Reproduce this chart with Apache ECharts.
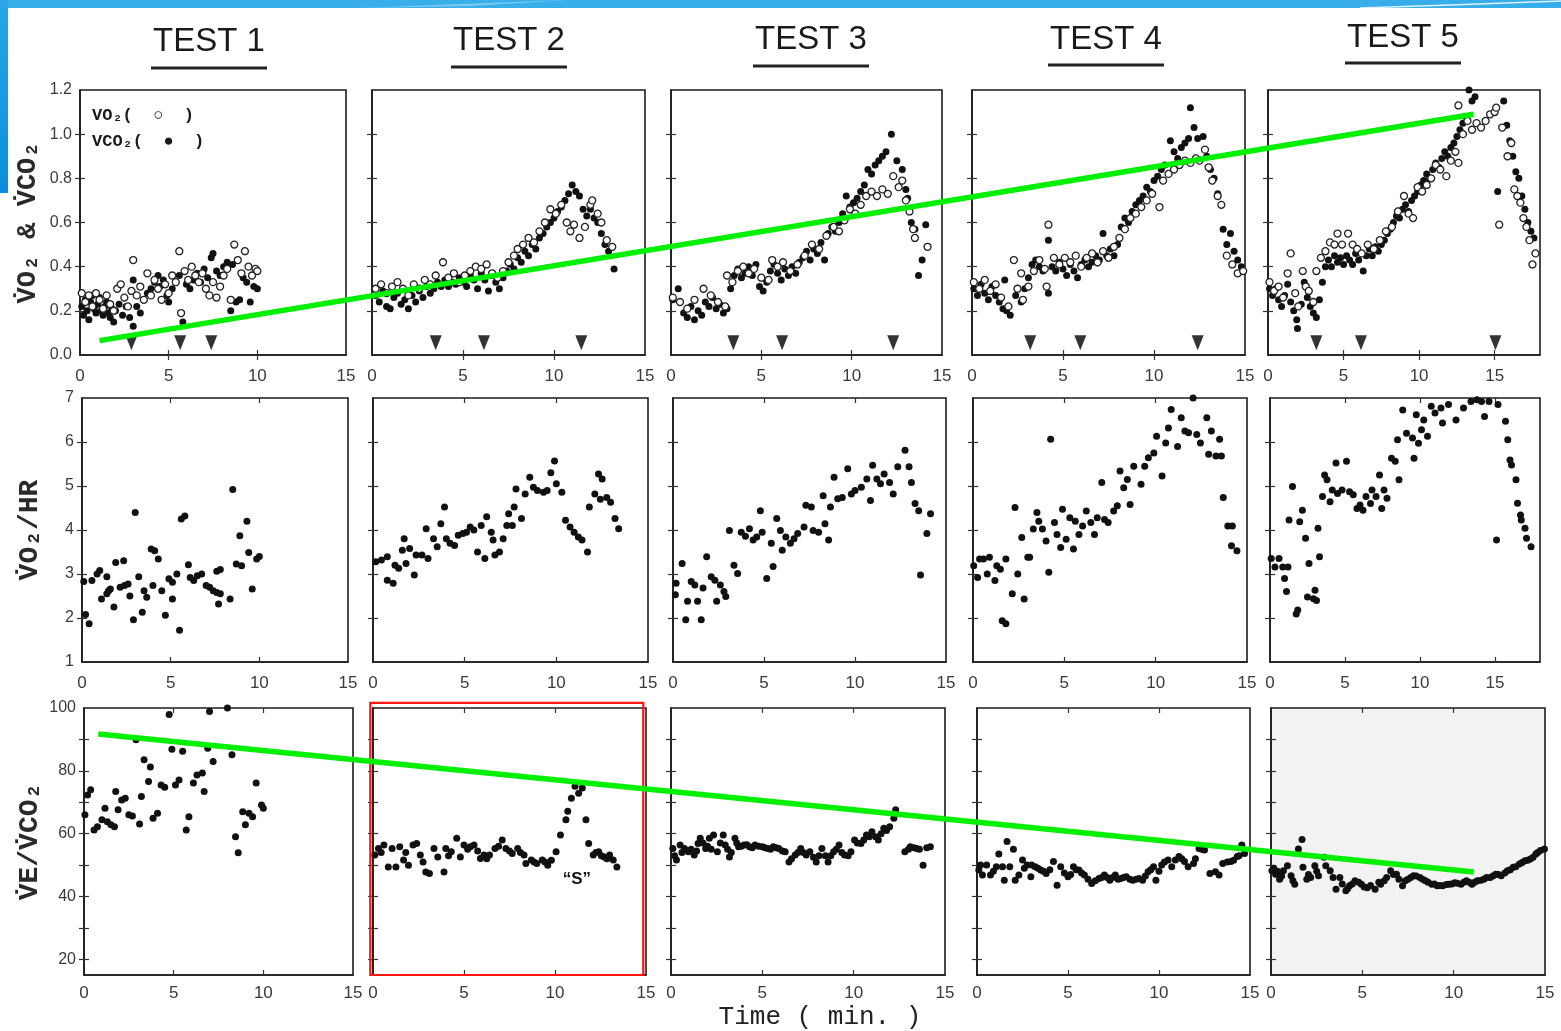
<!DOCTYPE html>
<html><head><meta charset="utf-8">
<script src="https://cdn.jsdelivr.net/npm/echarts@6/dist/echarts.min.js"></script>
<style>html,body{margin:0;padding:0;background:#fff;}#c{width:1561px;height:1031px;}</style>
</head><body><div id="c"></div>
<script>
// ---------- text / tick labels ----------
const testNames = ['TEST 1','TEST 2','TEST 3','TEST 4','TEST 5'];
const xTickLabels = [0,5,10,15];
const xInnerTicks = [5,10,15];
const row1TickLabels = [0,0.2,0.4,0.6,0.8,1.0,1.2];
const row1InnerTicks = [0.2,0.4,0.6,0.8,1.0];
const row2TickLabels = [1,2,3,4,5,6,7];
const row2InnerTicks = [2,3,4,5,6];
const row3TickLabels = [20,40,60,80,100];
const row3InnerTicks = [20,30,40,50,60,70,80,90];
const rowNames = ['V\u0307O\u2082 & V\u0307CO\u2082','V\u0307O\u2082/HR','V\u0307E/V\u0307CO\u2082'];
const timeLabel = 'Time ( min. )';

// ---------- row 1 : VO2 (open) & VCO2 (filled) ----------
const t1_vco2 = [[0.1,0.22],[0.2,0.18],[0.3,0.25],[0.4,0.2],[0.5,0.16],[0.6,0.24],[0.7,0.27],[0.8,0.21],[0.9,0.19],[1.0,0.23],[1.1,0.26],[1.2,0.2],[1.3,0.18],[1.4,0.22],[1.5,0.24],[1.6,0.19],[1.7,0.17],[1.8,0.21],[1.9,0.15],[2.0,0.2],[2.2,0.23],[2.4,0.18],[2.6,0.22],[2.8,0.17],[3.0,0.34],[3.0,0.13],[3.2,0.22],[3.4,0.19],[3.6,0.25],[3.8,0.28],[4.0,0.3],[4.2,0.33],[4.4,0.36],[4.5,0.31],[4.7,0.34],[4.9,0.27],[5.0,0.24],[5.2,0.3],[5.4,0.33],[5.6,0.36],[5.8,0.15],[5.9,0.38],[6.0,0.32],[6.2,0.3],[6.4,0.34],[6.6,0.37],[6.8,0.33],[7.0,0.39],[7.2,0.35],[7.4,0.44],[7.5,0.46],[7.7,0.38],[7.9,0.36],[8.1,0.4],[8.3,0.42],[8.5,0.2],[8.6,0.41],[8.8,0.24],[9.0,0.25],[9.2,0.35],[9.4,0.33],[9.6,0.24],[9.8,0.31],[10.0,0.3]];
const t1_vo2 = [[0.1,0.28],[0.3,0.24],[0.5,0.27],[0.7,0.22],[0.9,0.28],[1.1,0.25],[1.3,0.21],[1.5,0.27],[1.7,0.23],[1.9,0.2],[2.1,0.3],[2.3,0.32],[2.5,0.26],[2.7,0.22],[2.9,0.29],[3.0,0.43],[3.2,0.27],[3.4,0.31],[3.6,0.25],[3.8,0.37],[4.0,0.27],[4.2,0.34],[4.4,0.3],[4.6,0.25],[4.8,0.32],[5.0,0.28],[5.2,0.36],[5.4,0.33],[5.6,0.47],[5.7,0.19],[5.9,0.38],[6.1,0.34],[6.3,0.4],[6.5,0.36],[6.7,0.33],[6.9,0.37],[7.1,0.3],[7.3,0.27],[7.5,0.33],[7.7,0.26],[7.9,0.31],[8.1,0.36],[8.3,0.39],[8.5,0.25],[8.7,0.5],[8.9,0.43],[9.1,0.37],[9.3,0.47],[9.5,0.4],[9.7,0.36],[9.9,0.39],[10.0,0.38]];
const t2_vco2 = [[0.2,0.27],[0.4,0.24],[0.6,0.29],[0.8,0.22],[1.0,0.21],[1.2,0.26],[1.4,0.28],[1.6,0.23],[1.8,0.25],[2.0,0.21],[2.2,0.27],[2.4,0.24],[2.6,0.29],[2.8,0.26],[3.0,0.31],[3.2,0.28],[3.4,0.3],[3.6,0.33],[3.8,0.31],[4.0,0.34],[4.2,0.31],[4.4,0.33],[4.6,0.32],[4.8,0.35],[5.0,0.33],[5.2,0.31],[5.4,0.36],[5.6,0.34],[5.8,0.3],[6.0,0.37],[6.2,0.34],[6.4,0.29],[6.6,0.36],[6.8,0.33],[7.0,0.3],[7.2,0.35],[7.4,0.38],[7.6,0.41],[7.8,0.39],[8.0,0.44],[8.2,0.42],[8.4,0.47],[8.6,0.45],[8.8,0.5],[9.0,0.48],[9.2,0.53],[9.4,0.55],[9.6,0.58],[9.8,0.6],[10.0,0.62],[10.2,0.65],[10.4,0.67],[10.6,0.7],[10.8,0.73],[11.0,0.77],[11.2,0.74],[11.4,0.72],[11.6,0.66],[11.8,0.63],[12.0,0.66],[12.2,0.62],[12.4,0.6],[12.6,0.55],[12.8,0.5],[13.0,0.47],[13.3,0.39]];
const t2_vo2 = [[0.2,0.3],[0.5,0.32],[0.8,0.28],[1.1,0.31],[1.4,0.33],[1.7,0.3],[2.0,0.27],[2.3,0.32],[2.6,0.3],[2.9,0.34],[3.2,0.32],[3.5,0.36],[3.9,0.42],[4.2,0.35],[4.5,0.37],[4.8,0.33],[5.1,0.36],[5.4,0.38],[5.7,0.4],[6.0,0.39],[6.3,0.41],[6.6,0.37],[6.9,0.35],[7.2,0.38],[7.5,0.42],[7.8,0.45],[8.0,0.48],[8.3,0.5],[8.6,0.53],[8.9,0.51],[9.2,0.56],[9.5,0.6],[9.8,0.66],[10.1,0.64],[10.4,0.68],[10.7,0.6],[10.9,0.56],[11.1,0.59],[11.4,0.53],[11.7,0.58],[12.0,0.68],[12.1,0.7],[12.4,0.64],[12.6,0.6],[12.9,0.52],[13.2,0.49]];
const t3_vco2 = [[0.1,0.25],[0.4,0.3],[0.7,0.19],[0.9,0.17],[1.1,0.22],[1.3,0.16],[1.5,0.2],[1.7,0.18],[1.9,0.24],[2.1,0.22],[2.3,0.26],[2.5,0.21],[2.7,0.23],[2.9,0.19],[3.1,0.21],[3.3,0.3],[3.5,0.36],[3.7,0.39],[3.9,0.35],[4.1,0.37],[4.3,0.4],[4.5,0.36],[4.7,0.41],[4.9,0.31],[5.1,0.29],[5.3,0.33],[5.5,0.38],[5.7,0.41],[5.9,0.37],[6.1,0.34],[6.3,0.39],[6.5,0.36],[6.7,0.4],[6.9,0.37],[7.1,0.42],[7.3,0.44],[7.5,0.47],[7.7,0.43],[7.9,0.48],[8.1,0.46],[8.3,0.51],[8.5,0.43],[8.7,0.55],[8.9,0.58],[9.1,0.56],[9.3,0.6],[9.5,0.64],[9.7,0.72],[9.9,0.67],[10.1,0.69],[10.3,0.71],[10.5,0.74],[10.7,0.77],[10.9,0.84],[11.1,0.82],[11.3,0.86],[11.5,0.88],[11.7,0.9],[11.9,0.92],[12.2,1.0],[12.5,0.88],[12.8,0.84],[13.0,0.75],[13.1,0.71],[13.3,0.6],[13.5,0.57],[13.7,0.36],[13.9,0.43],[14.1,0.59]];
const t3_vo2 = [[0.1,0.26],[0.5,0.24],[0.9,0.21],[1.3,0.25],[1.8,0.3],[2.2,0.27],[2.6,0.24],[3.0,0.22],[3.1,0.36],[3.4,0.33],[3.7,0.38],[4.0,0.4],[4.3,0.37],[4.6,0.39],[5.0,0.35],[5.4,0.34],[5.6,0.43],[5.9,0.4],[6.2,0.42],[6.6,0.38],[7.0,0.41],[7.4,0.45],[7.8,0.5],[8.2,0.48],[8.6,0.54],[9.0,0.58],[9.3,0.56],[9.6,0.61],[9.9,0.66],[10.2,0.64],[10.5,0.68],[10.8,0.72],[11.1,0.74],[11.4,0.72],[11.7,0.75],[12.0,0.73],[12.3,0.81],[12.6,0.76],[12.8,0.79],[13.0,0.7],[13.2,0.65],[13.4,0.57],[13.5,0.53],[14.2,0.49]];
const t4_vco2 = [[0.1,0.3],[0.3,0.27],[0.5,0.32],[0.7,0.28],[0.9,0.25],[1.1,0.31],[1.3,0.27],[1.5,0.24],[1.7,0.21],[1.8,0.34],[1.9,0.2],[2.1,0.18],[2.4,0.27],[2.7,0.24],[2.9,0.3],[3.1,0.35],[3.3,0.41],[3.5,0.43],[3.7,0.4],[3.9,0.38],[4.2,0.52],[4.2,0.28],[4.4,0.4],[4.6,0.38],[4.8,0.42],[5.0,0.39],[5.2,0.36],[5.4,0.41],[5.6,0.38],[5.8,0.35],[6.0,0.41],[6.2,0.43],[6.4,0.4],[6.6,0.42],[6.8,0.45],[7.0,0.43],[7.2,0.55],[7.4,0.45],[7.6,0.48],[7.8,0.45],[8.0,0.5],[8.2,0.58],[8.4,0.62],[8.6,0.6],[8.8,0.65],[9.0,0.68],[9.2,0.7],[9.4,0.72],[9.6,0.76],[9.8,0.74],[10.0,0.79],[10.2,0.81],[10.4,0.84],[10.6,0.86],[10.9,0.97],[11.1,0.92],[11.3,0.89],[11.5,0.94],[11.7,0.96],[11.9,0.98],[12.0,1.12],[12.2,1.03],[12.4,0.98],[12.7,0.99],[12.9,0.9],[13.1,0.84],[13.3,0.8],[13.5,0.73],[13.8,0.57],[14.0,0.5],[14.2,0.55],[14.4,0.47],[14.6,0.43],[14.8,0.4]];
const t4_vo2 = [[0.1,0.33],[0.4,0.3],[0.7,0.34],[1.0,0.29],[1.3,0.32],[1.6,0.26],[2.0,0.22],[2.3,0.43],[2.5,0.3],[2.7,0.37],[2.8,0.25],[3.1,0.31],[3.4,0.38],[3.7,0.43],[4.0,0.39],[4.1,0.31],[4.2,0.59],[4.5,0.44],[4.8,0.41],[5.1,0.44],[5.4,0.42],[5.7,0.45],[6.0,0.4],[6.3,0.44],[6.6,0.46],[6.9,0.42],[7.2,0.47],[7.5,0.44],[7.8,0.49],[8.1,0.53],[8.4,0.57],[8.7,0.62],[9.0,0.64],[9.3,0.67],[9.6,0.7],[9.9,0.73],[10.3,0.67],[10.5,0.79],[10.8,0.82],[11.1,0.84],[11.4,0.86],[11.7,0.88],[12.0,0.87],[12.3,0.89],[12.5,0.88],[12.8,0.93],[13.0,0.85],[13.2,0.79],[13.5,0.72],[13.7,0.68],[14.0,0.45],[14.3,0.41],[14.6,0.37],[14.9,0.38]];
const t5_vco2 = [[0.1,0.3],[0.3,0.27],[0.5,0.3],[0.7,0.25],[0.9,0.22],[1.1,0.27],[1.3,0.32],[1.5,0.24],[1.7,0.2],[1.9,0.16],[1.95,0.12],[2.2,0.23],[2.4,0.33],[2.6,0.26],[2.8,0.22],[3.0,0.19],[3.2,0.17],[3.4,0.25],[3.6,0.33],[3.8,0.4],[4.0,0.43],[4.2,0.4],[4.4,0.45],[4.6,0.42],[4.8,0.44],[5.0,0.41],[5.2,0.45],[5.4,0.43],[5.6,0.41],[5.8,0.46],[6.0,0.43],[6.2,0.46],[6.3,0.38],[6.5,0.45],[6.7,0.48],[6.9,0.45],[7.1,0.49],[7.3,0.47],[7.5,0.5],[7.7,0.52],[7.9,0.55],[8.1,0.57],[8.3,0.6],[8.5,0.63],[8.7,0.62],[8.9,0.66],[9.1,0.68],[9.3,0.65],[9.5,0.7],[9.7,0.72],[9.9,0.74],[10.1,0.77],[10.3,0.79],[10.5,0.82],[10.7,0.8],[10.9,0.84],[11.1,0.87],[11.3,0.85],[11.5,0.89],[11.7,0.92],[11.9,0.9],[12.1,0.94],[12.3,0.96],[12.5,0.99],[12.7,1.02],[12.9,1.05],[13.1,1.08],[13.3,1.2],[13.5,1.15],[13.7,1.17],[15.2,0.74],[15.6,1.21],[15.6,1.15],[15.8,1.04],[16.0,0.97],[16.2,0.9],[16.4,0.83],[16.6,0.8],[16.8,0.72],[17.0,0.66],[17.2,0.6],[17.4,0.56],[17.6,0.53]];
const t5_vo2 = [[0.1,0.33],[0.4,0.29],[0.7,0.31],[1.0,0.26],[1.3,0.37],[1.5,0.46],[1.8,0.28],[2.0,0.22],[2.3,0.38],[2.5,0.31],[2.7,0.29],[3.0,0.24],[3.2,0.38],[3.5,0.44],[3.8,0.47],[4.1,0.51],[4.4,0.5],[4.6,0.55],[4.9,0.5],[5.3,0.55],[5.6,0.5],[5.9,0.48],[6.2,0.46],[6.6,0.5],[7.0,0.48],[7.4,0.52],[7.8,0.56],[8.2,0.58],[8.6,0.65],[9.0,0.72],[9.3,0.64],[9.6,0.62],[9.9,0.76],[10.2,0.74],[10.5,0.77],[10.8,0.8],[11.1,0.86],[11.4,0.84],[11.8,0.81],[12.1,0.88],[12.4,0.92],[12.6,0.87],[12.6,1.13],[12.9,1.0],[13.2,1.06],[13.5,1.02],[13.8,1.05],[14.1,1.03],[14.4,1.06],[14.7,1.09],[15.0,1.1],[15.1,1.12],[15.3,0.59],[15.5,1.03],[15.85,0.9],[16.1,0.96],[16.3,0.75],[16.5,0.72],[16.7,0.69],[16.9,0.62],[17.1,0.58],[17.3,0.52],[17.5,0.41],[17.7,0.46]];
// threshold arrows (minutes)
const t1_arrows = [2.9,5.65,7.4];
const t2_arrows = [3.5,6.15,11.5];
const t3_arrows = [3.45,6.15,12.3];
const t4_arrows = [3.2,5.95,12.4];
const t5_arrows = [3.2,6.15,15.05];
const arrowLevel = 0.055;

// ---------- row 2 : VO2/HR ----------
const t1_hr = [[0.1,2.83],[0.2,2.08],[0.4,1.87],[0.56,2.85],[0.85,3.0],[1.0,3.08],[1.1,2.43],[1.4,2.55],[1.5,2.62],[1.6,2.66],[1.4,2.94],[1.8,2.25],[1.9,3.26],[2.35,3.3],[2.15,2.7],[2.4,2.74],[2.6,2.77],[2.7,2.5],[3.0,4.4],[2.9,1.96],[3.2,2.94],[3.4,2.13],[3.5,2.62],[3.65,2.47],[3.9,3.57],[4.1,3.53],[4.3,3.34],[4.0,2.74],[4.5,2.62],[4.7,2.06],[4.9,2.89],[5.1,2.81],[5.1,2.43],[5.35,3.0],[5.5,1.72],[5.6,4.25],[5.8,4.32],[6.0,3.21],[6.1,2.92],[6.3,2.85],[6.5,2.96],[6.75,3.0],[7.0,2.74],[7.2,2.7],[7.4,2.62],[7.6,2.58],[7.7,2.32],[7.8,2.55],[7.6,3.06],[7.8,3.1],[8.35,2.43],[8.5,4.92],[8.7,3.23],[9.0,3.19],[8.9,3.87],[9.3,4.2],[9.4,3.49],[9.6,2.66],[9.85,3.34],[10.0,3.4]];
const t2_hr = [[0.15,3.28],[0.46,3.32],[0.78,3.39],[0.78,2.86],[1.1,2.79],[1.2,3.2],[1.4,3.13],[1.6,3.54],[1.7,3.8],[1.8,3.24],[2.0,3.58],[2.25,2.98],[2.35,3.43],[2.67,3.43],[3.0,3.35],[2.9,4.03],[3.3,3.8],[3.5,3.62],[3.7,4.14],[3.9,4.52],[4.0,3.8],[4.2,3.7],[4.45,3.65],[4.65,3.88],[4.9,3.92],[5.1,3.95],[5.3,4.07],[5.5,4.0],[5.7,3.5],[5.9,4.1],[6.1,3.35],[6.2,4.3],[6.45,3.95],[6.55,3.77],[6.65,3.43],[6.9,3.5],[7.1,3.8],[7.3,4.1],[7.4,4.37],[7.7,4.52],[7.6,4.1],[7.8,4.93],[8.1,4.26],[8.3,4.82],[8.55,5.2],[8.75,4.97],[8.97,4.9],[9.3,4.86],[9.5,4.9],[9.7,5.3],[9.9,5.57],[10.0,5.05],[10.3,4.86],[10.5,4.22],[10.75,4.07],[10.97,3.95],[11.2,3.84],[11.4,3.77],[11.7,3.5],[11.8,4.52],[12.1,4.82],[12.3,5.27],[12.5,5.16],[12.4,4.7],[12.75,4.74],[12.96,4.63],[13.2,4.26],[13.4,4.03]];
const t3_hr = [[0.13,2.53],[0.17,2.79],[0.5,3.24],[0.7,1.96],[0.8,2.38],[1.0,2.83],[1.2,2.75],[1.35,2.38],[1.55,1.96],[1.65,2.68],[1.85,3.39],[2.1,2.94],[2.3,2.86],[2.4,2.38],[2.6,2.75],[2.8,2.6],[2.9,2.49],[3.1,3.99],[3.35,3.2],[3.55,3.01],[3.75,3.95],[3.98,3.86],[4.2,4.03],[4.4,3.77],[4.6,3.84],[4.8,4.44],[4.9,3.95],[5.15,2.9],[5.4,3.7],[5.5,3.17],[5.7,4.26],[5.9,3.99],[6.0,3.54],[6.2,3.84],[6.45,3.7],[6.65,3.8],[6.85,3.92],[7.2,4.07],[7.3,4.56],[7.6,4.52],[7.7,3.99],[8.0,3.95],[8.25,4.78],[8.35,4.14],[8.55,3.77],[8.65,4.52],[8.85,5.2],[9.05,4.71],[9.3,4.74],[9.6,5.39],[9.8,4.82],[10.0,4.9],[10.35,4.97],[10.65,5.16],[10.85,4.67],[10.97,5.47],[11.2,5.16],[11.4,5.05],[11.6,5.27],[11.9,5.08],[12.1,4.82],[12.35,5.44],[12.75,5.81],[12.97,5.44],[13.1,5.08],[13.3,4.6],[13.5,4.44],[13.6,2.98],[13.95,3.92],[14.15,4.37]];
const t4_hr = [[0.04,3.19],[0.25,2.92],[0.36,3.34],[0.57,3.34],[0.78,3.0],[0.9,3.38],[1.2,2.85],[1.3,3.19],[1.5,3.11],[1.6,1.94],[1.8,1.87],[1.8,3.34],[2.15,2.55],[2.3,4.51],[2.45,3.0],[2.67,3.83],[2.8,2.43],[3.0,3.38],[3.1,3.38],[3.3,4.02],[3.5,4.4],[3.6,4.2],[3.8,4.02],[4.0,3.75],[4.15,3.04],[4.25,6.06],[4.46,4.17],[4.6,3.9],[4.8,3.6],[4.9,4.47],[5.1,3.79],[5.3,4.28],[5.5,3.57],[5.6,4.2],[5.8,3.9],[6.0,4.09],[6.2,4.43],[6.45,4.17],[6.65,3.9],[6.8,4.28],[7.05,5.08],[7.2,4.24],[7.4,4.17],[7.7,4.43],[7.9,4.55],[8.05,5.34],[8.25,4.96],[8.45,5.15],[8.6,4.58],[8.8,5.45],[9.2,5.04],[9.4,5.45],[9.6,5.64],[9.9,5.75],[10.05,6.13],[10.35,5.23],[10.55,5.98],[10.7,6.32],[10.85,6.74],[11.2,5.9],[11.4,6.55],[11.6,6.25],[11.8,6.21],[12.05,7.0],[12.25,6.17],[12.45,5.98],[12.8,6.55],[12.9,5.72],[13.05,6.25],[13.3,5.68],[13.5,6.06],[13.6,5.68],[13.7,4.74],[13.95,4.09],[14.2,4.09],[14.15,3.64],[14.45,3.53]];
const t5_hr = [[0.08,3.35],[0.33,3.16],[0.6,3.35],[0.85,3.16],[0.97,2.9],[1.1,2.6],[1.2,3.16],[1.27,4.23],[1.5,4.99],[1.75,2.09],[1.85,2.18],[1.98,4.19],[2.16,4.45],[2.37,3.81],[2.5,2.48],[2.6,3.24],[2.9,2.44],[3.0,2.63],[3.1,2.4],[3.2,4.04],[3.3,3.39],[3.5,4.76],[3.64,5.25],[3.8,5.14],[4.0,4.64],[4.15,4.91],[4.4,5.52],[4.5,4.83],[4.8,4.91],[5.1,5.56],[5.3,4.87],[5.55,4.8],[5.8,4.49],[6.0,4.57],[6.2,4.45],[6.4,4.76],[6.7,4.6],[6.8,4.91],[7.07,4.76],[7.3,5.25],[7.45,4.49],[7.6,4.91],[7.8,4.72],[8.1,5.63],[8.35,5.56],[8.5,6.05],[8.6,5.14],[8.85,6.73],[9.1,6.2],[9.5,6.09],[9.6,5.63],[9.75,6.62],[9.9,5.97],[10.1,6.28],[10.25,6.5],[10.5,6.13],[10.75,6.81],[11.0,6.66],[11.4,6.77],[11.5,6.43],[11.9,6.85],[12.4,6.5],[12.9,6.77],[13.4,6.92],[13.8,6.96],[14.1,6.92],[14.3,6.58],[14.6,6.92],[15.1,3.77],[15.2,6.85],[15.7,6.47],[15.85,6.05],[16.0,5.59],[16.1,5.48],[16.4,5.14],[16.5,4.61],[16.7,4.34],[16.75,4.23],[17.0,4.04],[17.1,3.81],[17.4,3.62]];

// ---------- row 3 : VE/VCO2 ----------
const t1_ve = [[0.05,66],[0.2,72.3],[0.37,74],[0.56,61.2],[0.75,62.2],[1.0,64.4],[1.17,68.1],[1.3,63.8],[1.5,62.8],[1.7,62.2],[1.77,73.4],[1.9,67.6],[2.1,70.7],[2.3,71.3],[2.5,66],[2.7,65.6],[2.9,89.9],[3.1,63.1],[3.2,71.8],[3.35,83.5],[3.6,76.6],[3.7,81.2],[3.85,64.9],[4.1,66.5],[4.3,75.5],[4.5,74.8],[4.75,97.9],[4.9,86.9],[5.1,75.5],[5.3,77.1],[5.5,86.2],[5.7,61.2],[5.85,65.4],[6.1,76.1],[6.3,78.7],[6.6,79.3],[6.7,73.4],[6.9,87.2],[7.0,98.9],[7.2,83],[8.0,100],[8.25,85.1],[8.45,59],[8.6,53.9],[8.85,67],[9.0,62.8],[9.2,66.5],[9.4,65.4],[9.6,76.1],[9.9,69.1],[10.0,68.1]];
const t2_ve = [[0.1,53.2],[0.3,55.3],[0.6,56.4],[0.84,49.4],[1.05,55.3],[1.26,49.4],[1.47,55.8],[1.68,51.6],[1.95,49.9],[2.2,56.4],[2.4,56.9],[2.6,53.2],[2.9,47.8],[3.1,47.3],[3.35,55.3],[3.56,52.6],[3.9,47.8],[4.0,55.3],[4.3,54.2],[4.6,58.5],[4.8,52.6],[5.0,56.4],[5.35,55.8],[5.55,56.4],[5.9,52.1],[6.1,53.2],[6.4,53.2],[6.7,55.3],[7.1,58],[7.3,55.3],[7.65,53.7],[7.95,55.3],[8.3,53.2],[8.4,50.5],[8.7,51.6],[9.0,50.5],[9.3,51.6],[9.6,49.9],[10.06,54.2],[10.3,59.6],[10.6,64.4],[10.7,67.1],[10.9,71.3],[11.1,75.1],[11.3,72.9],[11.5,74.5],[11.7,64.4],[11.85,56.9],[12.1,53.2],[12.4,54.2],[12.7,52.6],[13.0,53.2],[13.2,51.6],[13.4,49.4],[0.45,54],[1.8,54],[2.75,51],[4.15,53],[5.2,55],[5.75,54.5],[6.25,52],[6.9,56],[7.5,54.5],[8.1,54],[8.85,51],[9.45,51],[9.8,51.5],[12.25,54],[12.55,53],[12.85,52]];
const t3_ve = [[0.1,55.3],[0.3,51.6],[0.5,56.4],[0.74,55.3],[0.95,54.2],[1.27,53.2],[1.48,56.9],[1.6,58.5],[1.9,55.3],[2.1,58.5],[2.33,59.6],[2.54,54.2],[2.86,59.6],[2.97,56.4],[3.2,52.6],[3.5,58.5],[3.7,55.8],[4.0,56.4],[4.3,55.8],[4.6,56.4],[5.0,55.8],[5.3,55.3],[5.6,55.8],[5.9,55.3],[6.25,54.2],[6.46,51],[6.8,53.2],[7.1,55.3],[7.4,53.2],[7.6,54.2],[7.95,51],[8.26,55.3],[8.6,51],[8.9,54.2],[9.2,56.4],[9.5,53.2],[9.85,54.2],[10.05,58],[10.4,56.9],[10.7,59.6],[11.0,60.6],[11.35,58],[11.65,61.7],[11.97,62.2],[12.2,64.9],[12.3,67.6],[12.8,54.2],[13.1,55.8],[13.45,55.3],[13.8,49.9],[14.2,55.8],[0.2,53],[0.6,54],[1.1,55],[1.4,54.5],[1.75,57],[2.0,56],[2.2,55],[2.7,57],[3.1,55],[3.3,54],[3.6,57],[3.85,56],[4.15,56.5],[4.45,55.5],[4.8,56],[5.15,55.5],[5.45,55],[5.75,55.5],[6.1,54.5],[6.6,52],[6.95,54],[7.25,54],[7.8,52.5],[8.1,53],[8.45,53],[8.75,53],[9.05,55],[9.35,54],[9.7,53],[10.2,57],[10.55,58],[10.85,59],[11.2,59],[11.5,60],[11.8,61],[13.0,55],[13.3,55.5],[13.6,55],[14.0,55.5]];
const t4_ve = [[0.1,48.4],[0.3,46.8],[0.53,50],[0.74,46.8],[1.06,49.5],[1.2,53.5],[1.4,49.5],[1.5,45.2],[1.65,57.5],[1.8,49.5],[2.0,55],[2.1,45.2],[2.3,46.8],[2.5,51.6],[2.75,50],[2.96,46.3],[3.2,49.5],[3.5,48.4],[3.8,47.3],[4.2,51.1],[4.4,43.6],[4.6,49.5],[5.0,46.3],[5.3,49.5],[5.6,48.4],[5.9,46.8],[6.3,44.1],[6.7,45.7],[7.0,46.8],[7.3,45.2],[7.6,46.8],[7.9,45.7],[8.2,46.3],[8.56,45.2],[8.9,45.7],[9.1,45.2],[9.4,47.9],[9.7,49.5],[9.83,45.2],[10.15,50],[10.5,51.6],[10.7,49.5],[10.9,51.6],[11.1,52.7],[11.4,51.1],[11.6,49.5],[11.9,50.5],[12.2,55.3],[12.5,54.8],[12.8,47.3],[13.1,47.9],[13.3,46.8],[13.5,50.5],[13.95,51.1],[14.3,52.7],[14.55,56.4],[14.7,53.7],[0.2,50],[0.9,48],[2.6,49],[3.0,50],[3.35,49],[3.65,48],[4.0,48.5],[4.8,47.5],[5.15,47],[5.45,48.5],[5.75,47.5],[6.1,45.5],[6.5,45],[6.85,46],[7.15,46],[7.45,46],[7.75,45.5],[8.05,46],[8.4,45.5],[8.75,45.5],[9.25,46.5],[9.55,48.5],[10.0,48],[10.3,51],[11.25,52],[12.0,52],[12.35,55],[13.75,51],[14.1,51.5],[14.4,53]];
const t5_ve = [[0.05,48.2],[0.25,47.1],[0.47,45.5],[0.68,48.2],[0.9,49.8],[1.1,46.6],[1.3,43.9],[1.5,55.1],[1.7,58.1],[1.75,49.3],[1.96,45.5],[2.17,46],[2.4,49.8],[2.6,46.6],[2.9,52.5],[3.0,49.8],[3.24,48.2],[3.56,42.3],[3.77,46],[4.1,41.8],[4.3,43.4],[4.6,45],[4.95,43.9],[5.27,42.8],[5.7,42.3],[6.0,43.9],[6.33,46],[6.55,48.2],[6.87,47.1],[7.2,43.4],[7.5,45.5],[7.8,46.6],[8.15,46],[8.46,45],[8.8,43.9],[9.1,43.4],[9.4,43.4],[9.74,43.9],[10.06,44.4],[10.4,43.9],[10.7,45],[11.0,43.9],[11.3,45],[11.66,45.5],[12.0,46],[12.3,47.1],[12.6,46.6],[12.94,48.2],[13.26,49.3],[13.6,50.3],[13.9,51.4],[14.2,51.9],[14.5,53.5],[14.75,54.6],[14.97,55.1],[0.15,49],[0.35,48],[0.58,46.5],[1.2,45],[2.05,47],[2.5,48],[3.4,46],[3.9,44],[4.2,42.5],[4.45,44],[4.8,44.5],[5.1,43],[5.45,43.5],[5.9,44.5],[6.2,45],[6.7,47],[7.0,45.5],[7.35,45],[7.65,46],[7.95,46.5],[8.3,45.5],[8.6,44.5],[8.95,44],[9.25,43.5],[9.6,43.8],[9.9,44],[10.2,44.2],[10.55,44.5],[10.85,44.5],[11.15,44.5],[11.5,45.2],[11.8,46],[12.15,46.5],[12.45,47],[12.8,47.5],[13.1,48.5],[13.4,49.5],[13.75,50.8],[14.05,51.5],[14.35,52.5],[14.6,54]];

// ---------- annotation anchors (data coordinates) ----------
const greenUpper = {fromGrid:0, from:[1.1,0.065], toGrid:4, to:[13.6,1.09]};
const greenLower = {fromGrid:10, from:[0.8,91.7], toGrid:14, to:[11.1,47.8]};
const redBoxCorners = {grid:11, tl:[-0.15,101.6], br:[14.85,15]};
const sLabel = {grid:11, at:[11.2,45.5], text:'\u201cS\u201d'};

// ---------- layout ----------
const rowLayout = [
  {top:90, height:265, min:0, max:1.2, labels:row1TickLabels, ticks:row1InnerTicks, xMargin:13, panels:[[80,266],[372,273],[671,271],[972,273],[1268,272]], xmax:[15,15,15,15,18]},
  {top:398, height:264, min:1, max:7, labels:row2TickLabels, ticks:row2InnerTicks, xMargin:13, panels:[[82,266],[373,275],[673,273],[973,274],[1270,270]], xmax:[15,15,15,15,18]},
  {top:708, height:267, min:15, max:100, labels:row3TickLabels, ticks:row3InnerTicks, xMargin:10, panels:[[84,269],[373,273],[671,274],[977,273],[1271,274]], xmax:[15,15,15,15,15]}
];
const nameGaps = [38, 38, 40];
const nameSizes = [27, 28, 28];
const rowSeries = [
  [[t1_vco2,t1_vo2,t1_arrows],[t2_vco2,t2_vo2,t2_arrows],[t3_vco2,t3_vo2,t3_arrows],[t4_vco2,t4_vo2,t4_arrows],[t5_vco2,t5_vo2,t5_arrows]],
  [[t1_hr],[t2_hr],[t3_hr],[t4_hr],[t5_hr]],
  [[t1_ve],[t2_ve],[t3_ve],[t4_ve],[t5_ve]]
];

const INK = '#1c1c1c';
const grids=[], xAxes=[], yAxes=[], series=[];
const labelFont = {fontSize:17, color:'#3a3a3a', fontFamily:'Liberation Sans, Arial, sans-serif'};

for (let r=0;r<3;r++){
  const R = rowLayout[r];
  for (let c=0;c<5;c++){
    const g = r*5+c;
    const [left,width] = R.panels[c];
    grids.push({left, top:R.top, width, height:R.height, show:true, borderColor:INK, borderWidth:1.6,
      backgroundColor:(r===2&&c===4)?'#f2f2f2':'rgba(0,0,0,0)'});
    const xmax = R.xmax[c];
    const tickStyle = {color:'#333', width:1.2};
    xAxes.push({gridIndex:g, type:'value', min:0, max:xmax, position:'bottom',
      axisLine:{show:true, onZero:false, lineStyle:{color:INK, width:1.6}},
      axisTick:{show:true, inside:true, length:5, customValues:xInnerTicks.filter(v=>v<xmax), lineStyle:tickStyle},
      axisLabel:Object.assign({show:true, customValues:xTickLabels, margin:R.xMargin}, labelFont),
      splitLine:{show:false}});
    xAxes.push({gridIndex:g, type:'value', min:0, max:xmax, position:'top',
      axisLine:{show:false}, axisTick:{show:true, inside:true, length:5, customValues:xInnerTicks.filter(v=>v<xmax), lineStyle:tickStyle},
      axisLabel:{show:false}, splitLine:{show:false}});
    const yl = {gridIndex:g, type:'value', min:R.min, max:R.max, position:'left',
      axisLine:{show:true, onZero:false, lineStyle:{color:INK, width:1.6}},
      axisTick:{show:true, inside:true, length:5, customValues:R.ticks, lineStyle:tickStyle},
      axisLabel:Object.assign({show:c===0, customValues:R.labels, margin:8,
        formatter: r===0 ? (v=>Number(v).toFixed(1)) : (v=>String(v))}, labelFont, {fontSize:16}),
      splitLine:{show:false}};
    if (c===0){
      yl.name = rowNames[r];
      yl.nameLocation = 'middle';
      yl.nameGap = nameGaps[r];
      yl.nameTextStyle = {fontSize:nameSizes[r], fontWeight:'bold', color:'#2a2a2a', fontFamily:'Liberation Mono, Courier New, monospace'};
    }
    yAxes.push(yl);
    yAxes.push({gridIndex:g, type:'value', min:R.min, max:R.max, position:'right',
      axisLine:{show:false}, axisTick:{show:true, inside:true, length:5, customValues:R.ticks, lineStyle:tickStyle},
      axisLabel:{show:false}, splitLine:{show:false}});

    const sd = rowSeries[r][c];
    if (r===0){
      series.push({type:'scatter', name:'VCO2', xAxisIndex:2*g, yAxisIndex:2*g, data:sd[0], symbolSize:7,
        itemStyle:{color:'#111', opacity:1}, silent:true});
      series.push({type:'scatter', name:'VO2', xAxisIndex:2*g, yAxisIndex:2*g, data:sd[1], symbolSize:7,
        itemStyle:{color:'#ffffff', borderColor:'#222', borderWidth:1.3, opacity:1}, silent:true});
      series.push({type:'scatter', name:'threshold', xAxisIndex:2*g, yAxisIndex:2*g,
        data:sd[2].map(v=>[v, arrowLevel]), symbol:'triangle', symbolRotate:180, symbolSize:[12,15],
        itemStyle:{color:'#000'}, silent:true});
    } else {
      series.push({type:'scatter', xAxisIndex:2*g, yAxisIndex:2*g, data:sd[0], symbolSize:7,
        itemStyle:{color:'#111', opacity:1}, silent:true});
    }
  }
}

const chart = echarts.init(document.getElementById('c'));
chart.setOption({animation:false, backgroundColor:'#ffffff', grid:grids, xAxis:xAxes, yAxis:yAxes, series});

const P = (g, pt) => chart.convertToPixel({gridIndex:g}, pt);
const gfx = [];
// slide decoration
gfx.push({type:'rect', shape:{x:0,y:0,width:1561,height:8}, style:{fill:'#38aeea'}, z:50});
gfx.push({type:'rect', shape:{x:0,y:0,width:8,height:193}, style:{fill:{type:'linear',x:0,y:0,x2:0,y2:1,colorStops:[{offset:0,color:'#2aa6e8'},{offset:1,color:'#0b8edc'}]}}, z:50});
gfx.push({type:'polygon', shape:{points:[[360,8],[460,4],[570,0],[470,6]]}, style:{fill:'rgba(255,255,255,0.35)'}, z:51});
gfx.push({type:'polyline', shape:{points:[[1360,8],[1450,5],[1561,1]]}, style:{stroke:'rgba(255,255,255,0.85)', lineWidth:1.5, fill:null}, z:51});
// titles
const titleX = [209,509,811,1106,1403];
const titleY = [42,41,40,40,38];
const ulY = [68,67,66,65,63];
testNames.forEach((t,i)=>{
  gfx.push({type:'text', x:titleX[i], y:titleY[i], style:{text:t, fill:'#1a1a1a', fontSize:33, fontFamily:'Liberation Sans, Arial, sans-serif', align:'center', verticalAlign:'middle'}, z:60});
  gfx.push({type:'line', shape:{x1:titleX[i]-58, y1:ulY[i], x2:titleX[i]+58, y2:ulY[i]}, style:{stroke:'#222', lineWidth:3}, z:60});
});
// legend in test 1
gfx.push({type:'text', x:92, y:116, style:{text:'VO\u2082(  \u25cb  )', fill:'#1a1a1a', fontSize:17, fontWeight:'bold', fontFamily:'Liberation Mono, monospace', align:'left', verticalAlign:'middle'}, z:60});
gfx.push({type:'text', x:92, y:142, style:{text:'VCO\u2082(  \u25cf  )', fill:'#1a1a1a', fontSize:17, fontWeight:'bold', fontFamily:'Liberation Mono, monospace', align:'left', verticalAlign:'middle'}, z:60});
// x axis title
gfx.push({type:'text', x:820, y:1017, style:{text:timeLabel, fill:'#222', fontSize:26, fontFamily:'Liberation Mono, Courier New, monospace', align:'center', verticalAlign:'middle'}, z:60});
// "S" marker
const sp = P(sLabel.grid, sLabel.at);
gfx.push({type:'text', x:sp[0], y:sp[1], style:{text:sLabel.text, fill:'#111', fontSize:17, fontWeight:'bold', fontFamily:'Liberation Sans, Arial, sans-serif', align:'center', verticalAlign:'middle'}, z:60});
// red box
const tl = P(redBoxCorners.grid, redBoxCorners.tl), br = P(redBoxCorners.grid, redBoxCorners.br);
gfx.push({type:'rect', shape:{x:tl[0], y:tl[1], width:br[0]-tl[0], height:br[1]-tl[1]}, style:{fill:null, stroke:'#ff1414', lineWidth:2.2}, z:70});
// green trend lines
[greenUpper, greenLower].forEach(L=>{
  const a = P(L.fromGrid, L.from), b = P(L.toGrid, L.to);
  gfx.push({type:'line', shape:{x1:a[0], y1:a[1], x2:b[0], y2:b[1]}, style:{stroke:'#00f000', lineWidth:5.5}, z:80});
});
chart.setOption({graphic:gfx});
</script>
</body></html>
